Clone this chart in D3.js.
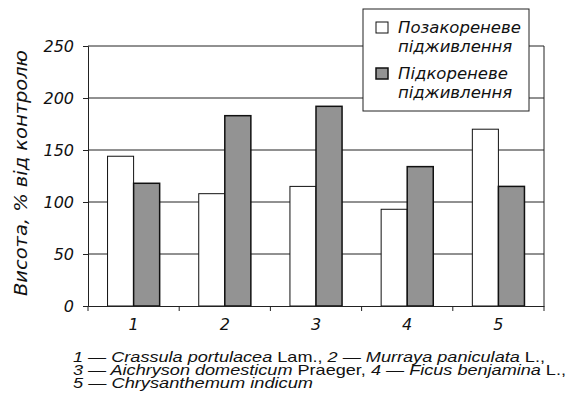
<!DOCTYPE html>
<html>
<head>
<meta charset="utf-8">
<script src="https://cdn.jsdelivr.net/npm/d3@7"></script>
<style>
  body { margin: 0; background: #fff; }
  text { font-family: "DejaVu Sans", sans-serif; font-style: italic; fill: #111; }
</style>
</head>
<body>
<div id="chart"></div>
<script>
// data
var categories = ["1", "2", "3", "4", "5"];
var foliar = [144, 108, 115, 93, 170];      // Позакореневе підживлення
var root = [118, 183, 192, 134, 115];       // Підкореневе підживлення
var seriesNames = ["Позакореневе підживлення", "Підкореневе підживлення"];
var yTicks = [0, 50, 100, 150, 200, 250];

var width = 580, height = 408,
    margin = {top: 46, right: 36, bottom: 102, left: 88},
    innerWidth = width - margin.left - margin.right,
    innerHeight = height - margin.top - margin.bottom;

var svg = d3.select("#chart").append("svg")
    .attr("width", width)
    .attr("height", height);

var g = svg.append("g")
    .attr("transform", "translate(" + margin.left + "," + margin.top + ")");

var x = d3.scaleBand().domain(categories).range([0, innerWidth]).paddingInner(0).paddingOuter(0);
var xs = d3.scaleBand().domain([0, 1]).range([0, x.bandwidth()]).paddingInner(0).paddingOuter(0.75);
var y = d3.scaleLinear().domain([0, 250]).range([innerHeight, 0]);

// grid
g.selectAll(".grid").data(yTicks.slice(1))
  .enter().append("line")
    .attr("x1", 0).attr("x2", innerWidth)
    .attr("y1", function(d) { return y(d); })
    .attr("y2", function(d) { return y(d); })
    .attr("stroke", "#222").attr("stroke-width", 1);

// right border
g.append("line")
    .attr("x1", innerWidth).attr("x2", innerWidth)
    .attr("y1", 0).attr("y2", innerHeight)
    .attr("stroke", "#222");

// bars
var rows = categories.map(function(c, i) { return {cat: c, vals: [foliar[i], root[i]]}; });
var colors = ["#ffffff", "#939393"];

var grp = g.selectAll(".grp").data(rows)
  .enter().append("g")
    .attr("transform", function(d) { return "translate(" + x(d.cat) + ",0)"; });

grp.selectAll("rect").data(function(d) { return d.vals; })
  .enter().append("rect")
    .attr("x", function(d, i) { return xs(i); })
    .attr("width", xs.bandwidth())
    .attr("y", function(d) { return y(d); })
    .attr("height", function(d) { return innerHeight - y(d); })
    .attr("fill", function(d, i) { return colors[i]; })
    .attr("stroke", "#111")
    .attr("stroke-width", function(d, i) { return i ? 1.5 : 1; });

// y axis
var yAxis = g.append("g")
    .call(d3.axisLeft(y).tickValues(yTicks).tickSize(5).tickPadding(9));
yAxis.select(".domain").attr("stroke", "#222");
yAxis.selectAll("line").attr("stroke", "#222");
yAxis.selectAll("text").attr("font-size", 16).attr("font-family", null);

// x axis
var xAxis = g.append("g")
    .attr("transform", "translate(0," + innerHeight + ")")
    .call(d3.axisBottom(x).tickSize(0).tickPadding(13));
xAxis.select(".domain").attr("stroke", "#222");
xAxis.selectAll("text").attr("font-size", 16).attr("font-family", null);

g.append("g").selectAll("line")
    .data(d3.range(categories.length + 1))
  .enter().append("line")
    .attr("x1", function(i) { return i * x.step(); })
    .attr("x2", function(i) { return i * x.step(); })
    .attr("y1", innerHeight).attr("y2", innerHeight + 5)
    .attr("stroke", "#222");

// y title
svg.append("text")
    .attr("transform", "translate(27,173) rotate(-90)")
    .attr("text-anchor", "middle")
    .attr("font-size", 18)
    .attr("textLength", 246)
    .attr("lengthAdjust", "spacingAndGlyphs")
    .text("Висота, % від контролю");

// legend
var lg = svg.append("g").attr("transform", "translate(363,9)");
lg.append("rect").attr("width", 166).attr("height", 102)
    .attr("fill", "#fff").attr("stroke", "#222");

var items = lg.selectAll(".item").data(seriesNames)
  .enter().append("g")
    .attr("transform", function(d, i) { return "translate(0," + i * 46 + ")"; });
items.append("rect")
    .attr("x", 13).attr("y", 13).attr("width", 12).attr("height", 11)
    .attr("fill", function(d, i) { return colors[i]; })
    .attr("stroke", "#111")
    .attr("stroke-width", function(d, i) { return i ? 1.5 : 1; });
items.append("text")
    .attr("x", 35).attr("y", 24)
    .attr("font-size", 16.5)
    .text(function(d) { return d.split(" ")[0]; });
items.append("text")
    .attr("x", 35).attr("y", 43)
    .attr("font-size", 16.5)
    .text(function(d) { return d.split(" ")[1]; });

// caption
var caption = [
  [["1 — ", 1], ["Crassula portulacea", 1], [" Lam., ", 0], ["2 — ", 1], ["Murraya paniculata", 1], [" L.,", 0]],
  [["3 — ", 1], ["Aichryson domesticum", 1], [" Praeger, ", 0], ["4 — ", 1], ["Ficus benjamina", 1], [" L.,", 0]],
  [["5 — ", 1], ["Chrysanthemum indicum", 1]]
];
var captionWidths = [472, 493, 240];
var cap = svg.append("g");
caption.forEach(function(line, i) {
  var t = cap.append("text")
      .attr("x", 73).attr("y", 362 + i * 13)
      .attr("font-size", 15)
      .attr("textLength", captionWidths[i])
      .attr("lengthAdjust", "spacingAndGlyphs")
      .style("font-family", "'Liberation Sans', Arial, sans-serif")
      .style("font-style", "normal");
  line.forEach(function(p) {
    t.append("tspan").text(p[0]).style("font-style", p[1] ? "italic" : "normal");
  });
});
</script>
</body>
</html>
